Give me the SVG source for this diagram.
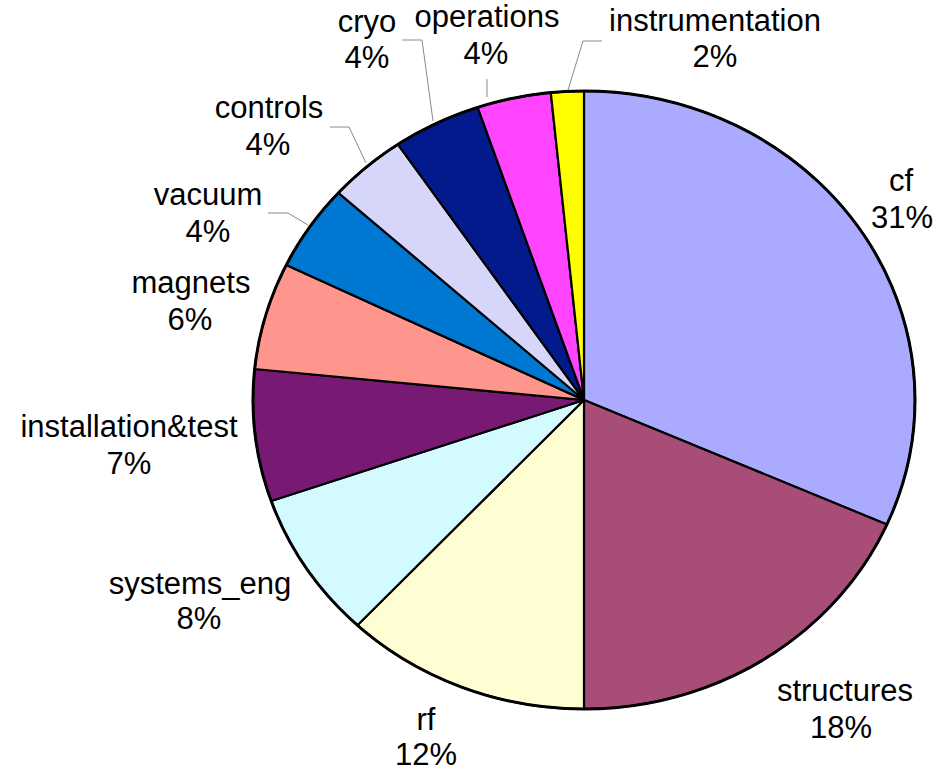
<svg xmlns="http://www.w3.org/2000/svg" width="940" height="771" viewBox="0 0 940 771">
<style>
.s{stroke:#000;stroke-width:2.2;stroke-linejoin:round}
text{font-family:"Liberation Sans",Arial,sans-serif;font-size:31px;fill:#000;text-anchor:middle}
.ld{fill:none;stroke:#8a8a8a;stroke-width:1}
</style>
<rect width="940" height="771" fill="#fff"/>
<g id="slices">
<g id="cf"><path class="s" fill="#AAABFE" d="M584,400 L584,91 A331,309 0 0 1 886.9,524.5 Z"/></g>
<g id="structures"><path class="s" fill="#A84C78" d="M584,400 L886.9,524.5 A331,309 0 0 1 584,709 Z"/></g>
<g id="rf"><path class="s" fill="#FFFDD2" d="M584,400 L584,709 A331,309 0 0 1 357.4,625.3 Z"/></g>
<g id="systems_eng"><path class="s" fill="#D3FAFF" d="M584,400 L357.4,625.3 A331,309 0 0 1 271.2,501 Z"/></g>
<g id="installation_test"><path class="s" fill="#781A73" d="M584,400 L271.2,501 A331,309 0 0 1 254.7,369 Z"/></g>
<g id="magnets"><path class="s" fill="#FF968E" d="M584,400 L254.7,369 A331,309 0 0 1 286.3,264.9 Z"/></g>
<g id="vacuum"><path class="s" fill="#0078D2" d="M584,400 L286.3,264.9 A331,309 0 0 1 338.4,192.8 Z"/></g>
<g id="controls"><path class="s" fill="#D6D6FA" d="M584,400 L338.4,192.8 A331,309 0 0 1 397.9,144.4 Z"/></g>
<g id="cryo"><path class="s" fill="#031A8C" d="M584,400 L397.9,144.4 A331,309 0 0 1 477.7,107.3 Z"/></g>
<g id="operations"><path class="s" fill="#FF44FF" d="M584,400 L477.7,107.3 A331,309 0 0 1 550.8,92.6 Z"/></g>
<g id="instrumentation"><path class="s" fill="#FFFF00" d="M584,400 L550.8,92.6 A331,309 0 0 1 584,91 Z"/></g>
<ellipse cx="584" cy="400" rx="331" ry="309" fill="none" stroke="#000" stroke-width="3"/>
</g>
<g id="connectors">
<polyline class="ld" points="602,41 583,41 568,90"/>
<polyline class="ld" points="487,79 487,97"/>
<polyline class="ld" points="402,40 422,40 433,121"/>
<polyline class="ld" points="330,127 349,127 366,163"/>
<polyline class="ld" points="268,213 288,213 308,225"/>
</g>
<g id="labels">
<g id="l-cf"><text x="901" y="191">cf</text><text x="902" y="228">31%</text></g>
<g id="l-structures"><text x="845" y="701">structures</text><text x="841" y="738">18%</text></g>
<g id="l-rf"><text x="426" y="730">rf</text><text x="426" y="765">12%</text></g>
<g id="l-systems_eng"><text x="200" y="594">systems_eng</text><text x="199" y="629">8%</text></g>
<g id="l-installation"><text x="129" y="437">installation&amp;test</text><text x="129" y="474">7%</text></g>
<g id="l-magnets"><text x="191" y="293">magnets</text><text x="190" y="330">6%</text></g>
<g id="l-vacuum"><text x="208" y="205">vacuum</text><text x="208" y="242">4%</text></g>
<g id="l-controls"><text x="269" y="118">controls</text><text x="268" y="155">4%</text></g>
<g id="l-cryo"><text x="367" y="32">cryo</text><text x="367" y="68">4%</text></g>
<g id="l-operations"><text x="487" y="27">operations</text><text x="486" y="64">4%</text></g>
<g id="l-instrumentation"><text x="715" y="31">instrumentation</text><text x="715" y="67">2%</text></g>
</g>
</svg>
